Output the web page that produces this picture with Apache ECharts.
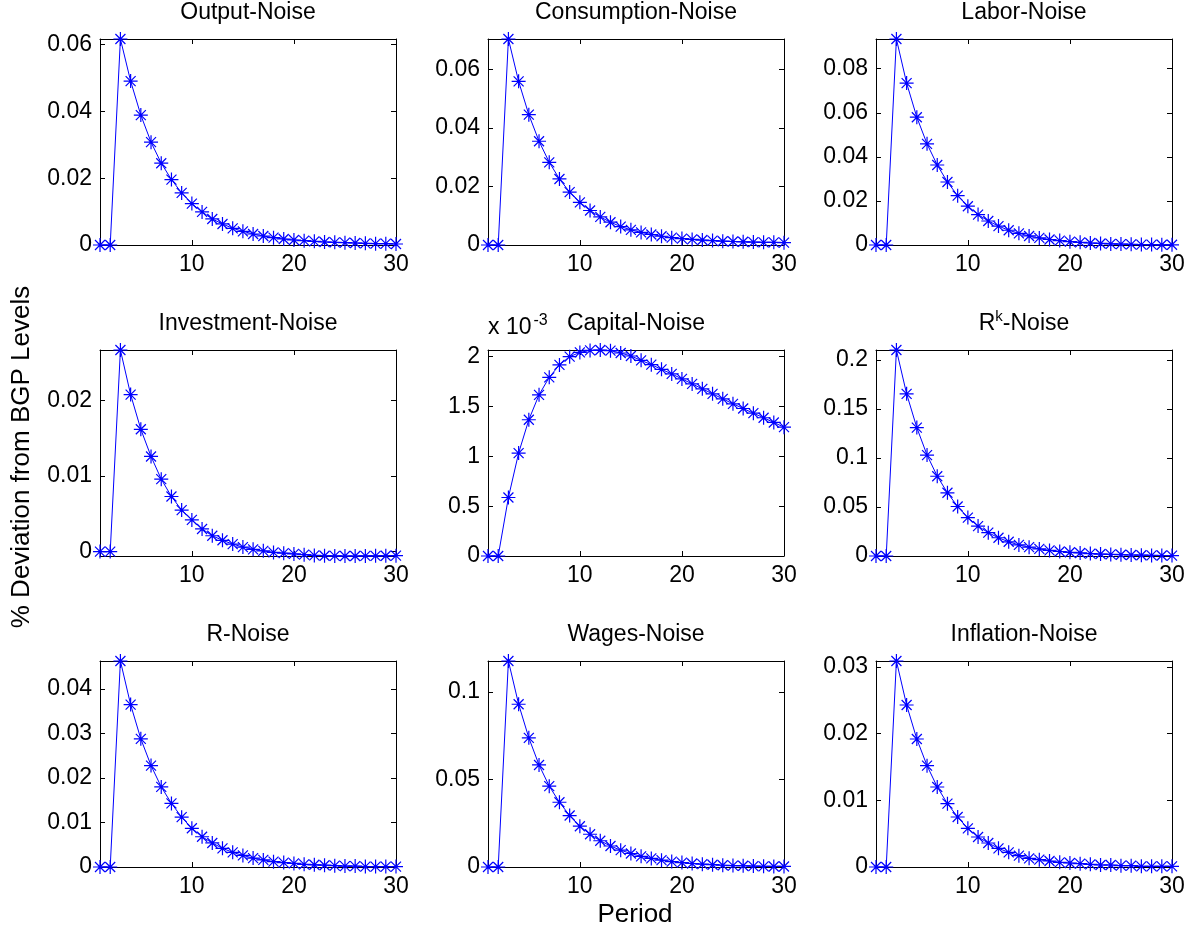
<!DOCTYPE html>
<html>
<head>
<meta charset="utf-8">
<script src="https://cdn.jsdelivr.net/npm/echarts@6/dist/echarts.min.js"></script>
<style>
  html, body { margin: 0; padding: 0; background: #fff; }
  #chart { width: 1193px; height: 934px; }
</style>
</head>
<body>
<div id="chart"></div>
<script>
const periods = [1, 2, 3, 4, 5, 6, 7, 8, 9, 10, 11, 12, 13, 14, 15, 16, 17, 18, 19, 20, 21, 22, 23, 24, 25, 26, 27, 28, 29, 30];
const xTicks = [10, 20, 30];

const titles = ["Output-Noise", "Consumption-Noise", "Labor-Noise", "Investment-Noise", "Capital-Noise", "{a|R}{s|k}{a|-Noise}", "R-Noise", "Wages-Noise", "Inflation-Noise"];

const output = [0, 0, 0.0617, 0.0491, 0.0389, 0.0308, 0.0245, 0.0196, 0.0156, 0.0124, 0.0099, 0.0078, 0.0063, 0.0050, 0.0041, 0.0033, 0.0027, 0.0022, 0.0018, 0.0015, 0.0013, 0.0011, 0.0009, 0.0008, 0.0007, 0.0006, 0.0005, 0.0004, 0.0004, 0.0003];
const consumption = [0, 0, 0.0705, 0.0560, 0.0446, 0.0355, 0.0283, 0.0226, 0.0181, 0.0146, 0.0118, 0.0096, 0.0078, 0.0063, 0.0052, 0.0043, 0.0036, 0.0030, 0.0025, 0.0022, 0.0019, 0.0017, 0.0015, 0.0013, 0.0012, 0.0011, 0.0010, 0.0009, 0.0009, 0.0008];
const labor = [0, 0, 0.0935, 0.0735, 0.0580, 0.0459, 0.0363, 0.0286, 0.0224, 0.0176, 0.0138, 0.0109, 0.0086, 0.0067, 0.0053, 0.0041, 0.0032, 0.0025, 0.0020, 0.0015, 0.0012, 0.0009, 0.0007, 0.0005, 0.0004, 0.0003, 0.0002, 0.0002, 0.0001, 0.0001];
const investment = [0, 0, 0.0267, 0.0208, 0.0162, 0.0126, 0.0096, 0.0073, 0.0055, 0.0042, 0.0030, 0.0021, 0.0015, 0.0010, 0.0006, 0.0003, 0.0001, -0.0001, -0.0002, -0.0003, -0.0004, -0.0005, -0.00055, -0.00057, -0.00058, -0.00058, -0.00057, -0.00056, -0.00055, -0.00054];
const capital = [0, 0, 0.000587, 0.001033, 0.001367, 0.001617, 0.001793, 0.001917, 0.002000, 0.002043, 0.002063, 0.002067, 0.002060, 0.002037, 0.002007, 0.001963, 0.001920, 0.001873, 0.001827, 0.001777, 0.001727, 0.001677, 0.001627, 0.001577, 0.001527, 0.001480, 0.001433, 0.001387, 0.001340, 0.001293];
const rk = [0, 0, 0.2102, 0.1655, 0.1310, 0.1030, 0.0814, 0.0645, 0.0505, 0.0392, 0.0305, 0.0238, 0.0186, 0.0145, 0.0113, 0.0090, 0.0072, 0.0057, 0.0046, 0.0038, 0.0031, 0.0025, 0.0020, 0.0016, 0.0013, 0.0010, 0.0008, 0.0006, 0.0005, 0.0004];
const r = [0, 0, 0.0463, 0.0365, 0.0288, 0.0228, 0.0180, 0.0143, 0.0112, 0.0087, 0.0068, 0.0054, 0.0042, 0.0033, 0.0026, 0.0020, 0.0016, 0.0012, 0.0010, 0.0008, 0.0006, 0.0005, 0.0004, 0.0003, 0.0002, 0.0002, 0.0001, 0.0001, 0.0001, 0.0001];
const wages = [0, 0, 0.1177, 0.0930, 0.0738, 0.0583, 0.0462, 0.0370, 0.0294, 0.0233, 0.0187, 0.0150, 0.0120, 0.0096, 0.0077, 0.0061, 0.0049, 0.0039, 0.0031, 0.0025, 0.0020, 0.0016, 0.0013, 0.0010, 0.0008, 0.0007, 0.0005, 0.0004, 0.0003, 0.0003];
const inflation = [0, 0, 0.0309, 0.0243, 0.0192, 0.0152, 0.0120, 0.0095, 0.0075, 0.0058, 0.0045, 0.0036, 0.0028, 0.0022, 0.0017, 0.0013, 0.0011, 0.0009, 0.0007, 0.0006, 0.0005, 0.0004, 0.0003, 0.0003, 0.0002, 0.0002, 0.0001, 0.0001, 0.0001, 0.0001];

const yTicks = [
  [0, 0.02, 0.04, 0.06],
  [0, 0.02, 0.04, 0.06],
  [0, 0.02, 0.04, 0.06, 0.08],
  [0, 0.01, 0.02],
  [0, 0.0005, 0.001, 0.0015, 0.002],
  [0, 0.05, 0.1, 0.15, 0.2],
  [0, 0.01, 0.02, 0.03, 0.04],
  [0, 0.05, 0.1],
  [0, 0.01, 0.02, 0.03]
];

const seriesData = [output, consumption, labor, investment, capital, rk, r, wages, inflation];

const colLeft = [100, 488, 876];
const rowTop = [39, 350, 661];
const boxW = 296;
const boxH = 206;
const FONT = "Liberation Sans, Helvetica, Arial, sans-serif";
const blue = "#0000ff";
const star = "path://M0,7L14,7M7,0L7,14M2,2L12,12M2,12L12,2";

const chart = echarts.init(document.getElementById("chart"));

const grids = [], xAxes = [], yAxes = [], series = [], graphics = [];

const tickStyle = (vals) => ({
  show: true, inside: true, length: 5,
  customValues: vals,
  lineStyle: { color: "#000", width: 1 }
});
const lineStyleAxis = { show: true, onZero: false, lineStyle: { color: "#000", width: 1 } };

seriesData.forEach((vals, i) => {
  const left = colLeft[i % 3];
  const top = rowTop[Math.floor(i / 3)];
  grids.push({ left: left, top: top, width: boxW, height: boxH, containLabel: false });

  const ymin = Math.min(...vals);
  const ymax = Math.max(...vals);
  const fmt = i === 4
    ? (v) => String(+(v * 1000).toFixed(2))
    : (v) => String(+v.toFixed(4));

  xAxes.push({
    type: "value", gridIndex: i, position: "bottom", min: 1, max: 30,
    axisLine: lineStyleAxis,
    axisTick: tickStyle(xTicks),
    axisLabel: { customValues: xTicks, color: "#000", fontSize: 23, fontFamily: FONT, margin: 8 },
    splitLine: { show: false }
  });
  xAxes.push({
    type: "value", gridIndex: i, position: "top", min: 1, max: 30,
    axisLine: lineStyleAxis,
    axisTick: tickStyle(xTicks),
    axisLabel: { show: false },
    splitLine: { show: false }
  });
  yAxes.push({
    type: "value", gridIndex: i, position: "left", min: ymin, max: ymax,
    axisLine: lineStyleAxis,
    axisTick: tickStyle(yTicks[i]),
    axisLabel: { customValues: yTicks[i], formatter: fmt, color: "#000", fontSize: 23, fontFamily: FONT, margin: 8 },
    splitLine: { show: false }
  });
  yAxes.push({
    type: "value", gridIndex: i, position: "right", min: ymin, max: ymax,
    axisLine: lineStyleAxis,
    axisTick: tickStyle(yTicks[i]),
    axisLabel: { show: false },
    splitLine: { show: false }
  });

  series.push({
    type: "line",
    xAxisIndex: i * 2,
    yAxisIndex: i * 2,
    data: periods.map((p, k) => [p, vals[k]]),
    symbol: star,
    symbolSize: 14,
    showSymbol: true,
    clip: false,
    lineStyle: { color: blue, width: 1 },
    itemStyle: { color: "transparent", borderColor: blue, borderWidth: 1.2 },
    emphasis: { disabled: true }
  });

  graphics.push({
    type: "text",
    x: left + boxW / 2,
    y: top - 26,
    style: {
      text: titles[i],
      align: "center",
      verticalAlign: "middle",
      fill: "#000",
      font: "23px " + FONT,
      rich: {
        a: { fontSize: 23, fontFamily: FONT, fill: "#000" },
        s: { fontSize: 15, fontFamily: FONT, fill: "#000", padding: [0, 0, 14, 0] }
      }
    }
  });
});

// exponent label on the Capital panel
graphics.push({
  type: "text",
  x: colLeft[1],
  y: rowTop[1] - 22,
  style: {
    text: "{a|x 10}{s|-3}",
    align: "left",
    verticalAlign: "middle",
    rich: {
      a: { fontSize: 23, fontFamily: FONT, fill: "#000" },
      s: { fontSize: 16, fontFamily: FONT, fill: "#000", padding: [0, 0, 14, 2] }
    }
  }
});

graphics.push({
  type: "text",
  x: 22,
  y: 457,
  rotation: Math.PI / 2,
  style: {
    text: "% Deviation from BGP Levels",
    align: "center",
    verticalAlign: "middle",
    fill: "#000",
    font: "26px " + FONT
  }
});

graphics.push({
  type: "text",
  x: 635,
  y: 915,
  style: {
    text: "Period",
    align: "center",
    verticalAlign: "middle",
    fill: "#000",
    font: "26px " + FONT
  }
});

chart.setOption({
  animation: false,
  backgroundColor: "#fff",
  grid: grids,
  xAxis: xAxes,
  yAxis: yAxes,
  series: series,
  graphic: graphics
});
</script>
</body>
</html>
